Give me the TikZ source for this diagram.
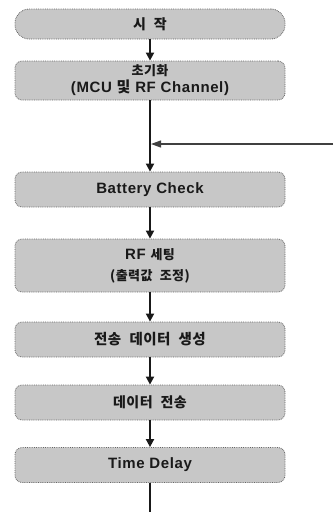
\documentclass[tikz,border=0pt]{standalone}
\usepackage{fontspec}
\setmainfont{Liberation Sans}[LetterSpace=4]
\newfontfamily\kr{Noto Sans CJK KR}[WordSpace=2.2, LetterSpace=3]
\usetikzlibrary{arrows.meta}
\tikzset{
  box/.style={draw=black!60, densely dotted, line width=0.8pt, fill=black!22,
    rounded corners=7pt, minimum width=270pt, inner sep=0pt, align=center,
    font=\fontsize{15}{17}\selectfont\bfseries, text=black!90},
  flow/.style={draw=black!90, line width=1.8pt, -{Triangle[width=8pt,length=8pt]}},
  plain/.style={draw=black!90, line width=1.8pt},
  back/.style={draw=black!75, line width=1.1pt, -{Triangle[width=7pt,length=10pt]}}
}
\begin{document}
\begin{tikzpicture}[x=1pt,y=-1pt]
\useasboundingbox (0,0) rectangle (333,512);
\node[box, rounded corners=14pt, minimum height=30pt] (b1) at (150,24) {\kr\bfseries\fontsize{14}{16}\selectfont 시 작};
\node[box, minimum height=39pt] (b2) at (150,80.5) {{\kr\bfseries\fontsize{13}{16}\selectfont 초기화}\\(MCU {\kr\bfseries 및} RF Channel)};
\node[box, minimum height=35pt] (b3) at (150,189.5) {Battery Check};
\node[box, minimum height=53pt, font=\fontsize{15}{21}\selectfont\bfseries] (b4) at (150,265.5) {RF {\kr\bfseries\fontsize{13}{16}\selectfont 세팅}\\{\kr\bfseries\fontsize{13}{16}\selectfont (출력값 조정)}};
\node[box, minimum height=35pt] (b5) at (150,339.5) {\kr\bfseries\fontsize{14.5}{16}\selectfont 전송 데이터 생성};
\node[box, minimum height=35pt] (b6) at (150,402.5) {\kr\bfseries\fontsize{14}{16}\selectfont 데이터 전송};
\node[box, minimum height=35pt] (b7) at (150,465) {Time Delay};
\coordinate (loopR) at (333,144);
\coordinate (join) at (151,144);
\coordinate (bot) at (150,512);
\draw[flow] (b1) -- (b2);
\draw[flow] (b2) -- (b3);
\draw[back] (loopR) -- (join);
\draw[flow] (b3) -- (b4);
\draw[flow] (b4) -- (b5);
\draw[flow] (b5) -- (b6);
\draw[flow] (b6) -- (b7);
\draw[plain] (b7) -- (bot);
\end{tikzpicture}
\end{document}
